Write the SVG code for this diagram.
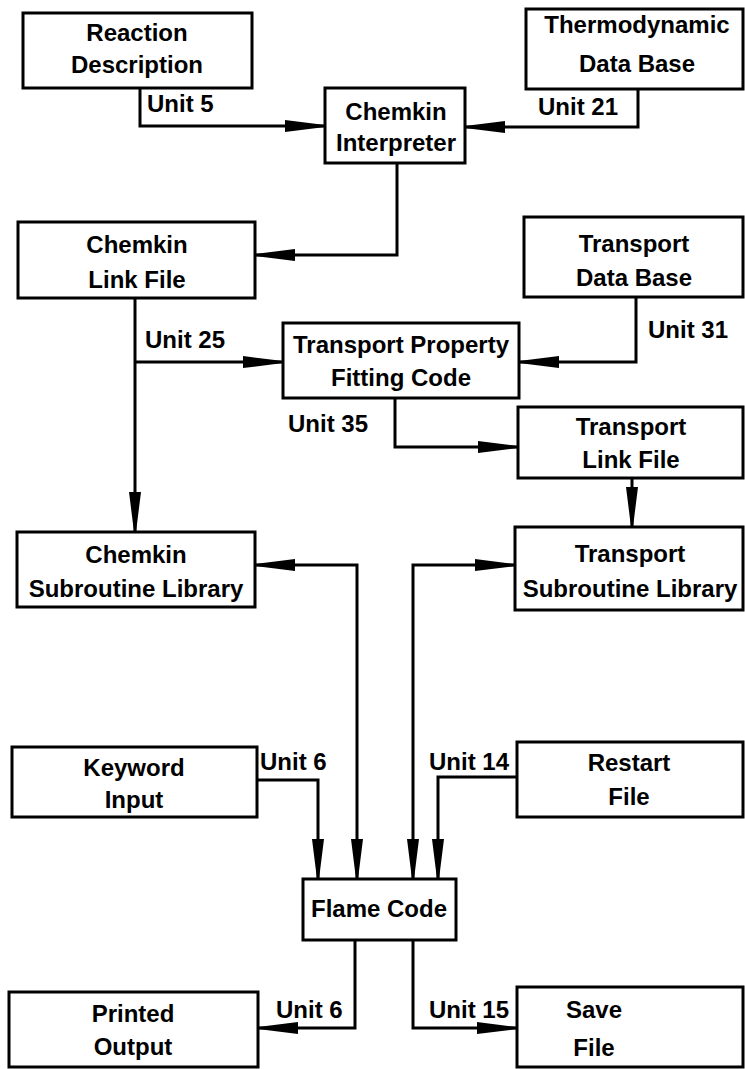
<svg xmlns="http://www.w3.org/2000/svg" width="745" height="1069" viewBox="0 0 745 1069">
<style>
.box{fill:#fff;stroke:#000;stroke-width:3}
.t{font-family:"Liberation Sans",Arial,sans-serif;font-weight:bold;font-size:24px;fill:#000;text-anchor:middle}
.u{font-family:"Liberation Sans",Arial,sans-serif;font-weight:bold;font-size:24px;fill:#000}
.c{fill:none;stroke:#000;stroke-width:3;stroke-linejoin:miter}
.a{marker-end:url(#ah)}
.aa{marker-start:url(#ah);marker-end:url(#ah)}
</style>
<defs>
<marker id="ah" markerUnits="userSpaceOnUse" markerWidth="40" markerHeight="12" refX="40" refY="6" orient="auto-start-reverse" viewBox="0 0 40 12">
<path d="M0,0 L40,5 L40,7 L0,12 z" fill="#000"/>
</marker>
</defs>
<rect width="745" height="1069" fill="#fff"/>
<g id="connectors">
<path class="c a" d="M140,88 V126 H325"/>
<path class="c a" d="M638,89 V127 H465"/>
<path class="c a" d="M397,163 V255 H255"/>
<path class="c a" d="M135,298 V532"/>
<path class="c a" d="M135,362 H283"/>
<path class="c a" d="M636,297 V362 H519"/>
<path class="c a" d="M395,398 V447 H518"/>
<path class="c a" d="M632,478 V527"/>
<path class="c aa" d="M357,879 V565 H255"/>
<path class="c aa" d="M413,879 V565 H515"/>
<path class="c a" d="M257,780 H318 V879"/>
<path class="c a" d="M517,777 H438 V879"/>
<path class="c a" d="M355,940 V1028 H258"/>
<path class="c a" d="M413,940 V1028 H517"/>
<text class="u" x="147" y="112">Unit 5</text>
<text class="u" x="538" y="115">Unit 21</text>
<text class="u" x="145" y="348">Unit 25</text>
<text class="u" x="648" y="338">Unit 31</text>
<text class="u" x="288" y="432">Unit 35</text>
<text class="u" x="260" y="770">Unit 6</text>
<text class="u" x="429" y="770">Unit 14</text>
<text class="u" x="276" y="1018">Unit 6</text>
<text class="u" x="429" y="1018">Unit 15</text>
</g>
<g id="reaction"><rect class="box" x="23" y="13" width="229" height="75"/><text class="t" x="137" y="41">Reaction</text><text class="t" x="137" y="73">Description</text></g>
<g id="thermo"><rect class="box" x="526" y="9" width="217" height="80"/><text class="t" x="637" y="33">Thermodynamic</text><text class="t" x="637" y="72">Data Base</text></g>
<g id="interpreter"><rect class="box" x="325" y="88" width="140" height="75"/><text class="t" x="396" y="120">Chemkin</text><text class="t" x="396" y="151">Interpreter</text></g>
<g id="chemlink"><rect class="box" x="18" y="222" width="237" height="76"/><text class="t" x="137" y="253">Chemkin</text><text class="t" x="137" y="288">Link File</text></g>
<g id="transdb"><rect class="box" x="524" y="217" width="219" height="80"/><text class="t" x="634" y="252">Transport</text><text class="t" x="634" y="286">Data Base</text></g>
<g id="tpfc"><rect class="box" x="283" y="323" width="236" height="75"/><text class="t" x="401" y="353">Transport Property</text><text class="t" x="401" y="386">Fitting Code</text></g>
<g id="translink"><rect class="box" x="518" y="407" width="225" height="71"/><text class="t" x="631" y="435">Transport</text><text class="t" x="631" y="468">Link File</text></g>
<g id="chemsub"><rect class="box" x="17" y="532" width="238" height="75"/><text class="t" x="136" y="563">Chemkin</text><text class="t" x="136" y="597">Subroutine Library</text></g>
<g id="transsub"><rect class="box" x="515" y="527" width="228" height="83"/><text class="t" x="630" y="562">Transport</text><text class="t" x="630" y="597">Subroutine Library</text></g>
<g id="keyword"><rect class="box" x="12" y="747" width="245" height="70"/><text class="t" x="134" y="776">Keyword</text><text class="t" x="134" y="808">Input</text></g>
<g id="restart"><rect class="box" x="517" y="742" width="226" height="75"/><text class="t" x="629" y="771">Restart</text><text class="t" x="629" y="805">File</text></g>
<g id="flame"><rect class="box" x="303" y="879" width="153" height="61"/><text class="t" x="379" y="917">Flame Code</text></g>
<g id="printed"><rect class="box" x="9" y="992" width="249" height="75"/><text class="t" x="133" y="1022">Printed</text><text class="t" x="133" y="1055">Output</text></g>
<g id="save"><rect class="box" x="517" y="987" width="226" height="80"/><text class="t" x="594" y="1018">Save</text><text class="t" x="594" y="1056">File</text></g>
</svg>
